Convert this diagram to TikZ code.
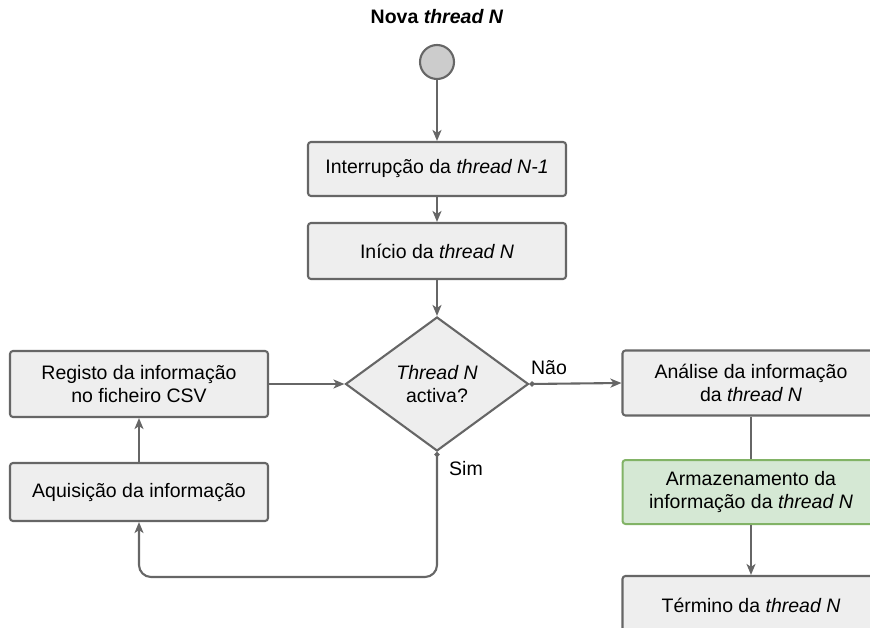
\documentclass[tikz,border=0pt]{standalone}
\usepackage{fontspec}
\setmainfont{Liberation Sans}
\usetikzlibrary{shapes.geometric,arrows.meta}
\definecolor{boxfill}{HTML}{EEEEEE}
\definecolor{boxline}{HTML}{666666}
\definecolor{greenfill}{HTML}{D5E8D4}
\definecolor{greenline}{HTML}{82B366}
\definecolor{startfill}{HTML}{CCCCCC}
\begin{document}
\begin{tikzpicture}[x=1pt,y=-1pt,
  every node/.style={font=\fontsize{19.5}{22.5}\selectfont},
  box/.style={draw=boxline, fill=boxfill, line width=2.1pt, rounded corners=3pt,
    minimum width=258pt, align=center, inner sep=0pt},
  gbox/.style={box, draw=greenline, fill=greenfill, line width=2pt},
  decision/.style={diamond, draw=boxline, fill=boxfill, line width=2.1pt,
    minimum width=183pt, minimum height=134pt, inner sep=0pt, align=center},
  startnode/.style={circle, draw=boxline, fill=startfill, line width=2.1pt,
    minimum size=34pt, inner sep=0pt},
  conn/.style={draw=boxline, line width=2.1pt, -{Stealth[length=11pt,width=9pt,inset=3pt]}},
  plainconn/.style={draw=boxline, line width=2.1pt},
  dotconn/.style={conn, {Circle[length=5pt]}-{Stealth[length=11pt,width=9pt,inset=3pt]}},
  lbl/.style={inner sep=0pt}
]
\useasboundingbox (0,0) rectangle (870,628);
\clip (0,0) rectangle (870,628);

\node[lbl] (title) at (437,17) {\textbf{Nova \textit{thread N}}};
\node[startnode] (start) at (437,62) {};
\node[box, minimum height=54pt] (b1) at (437,169) {Interrupção da \textit{thread N-1}};
\node[box, minimum height=56pt] (b2) at (437,251) {Início da \textit{thread N}};
\node[decision] (dia) at (437,384) {\textit{Thread N}\\activa?};
\node[box, minimum height=66pt] (reg) at (139,384) {Registo da informação\\no ficheiro CSV};
\node[box, minimum height=58pt] (acq) at (139,492) {Aquisição da informação};
\node[box, minimum width=257pt, minimum height=65pt] (ana) at (751,383) {Análise da informação\\da \textit{thread N}};
\node[gbox, minimum width=257pt, minimum height=64pt] (arm) at (751,492) {Armazenamento da\\informação da \textit{thread N}};
\node[box, minimum width=257pt, minimum height=58pt] (term) at (751,605) {Término da \textit{thread N}};

\node[lbl] (nao) at (549,368) {Não};
\node[lbl] (sim) at (466,469) {Sim};

\coordinate (loop) at (139,577);

\draw[conn] (start) -- (b1);
\draw[conn] (b1) -- (b2);
\draw[conn] (b2) -- (dia);
\draw[conn] (reg) -- (dia);
\draw[conn] (acq) -- (reg);
\draw[dotconn] (dia.east) -- (ana.west);
\draw[dotconn, rounded corners=12pt] (dia.south) |- (loop) -- (acq.south);
\draw[plainconn] (ana) -- (arm);
\draw[conn] (arm) -- (term);
\end{tikzpicture}
\end{document}
